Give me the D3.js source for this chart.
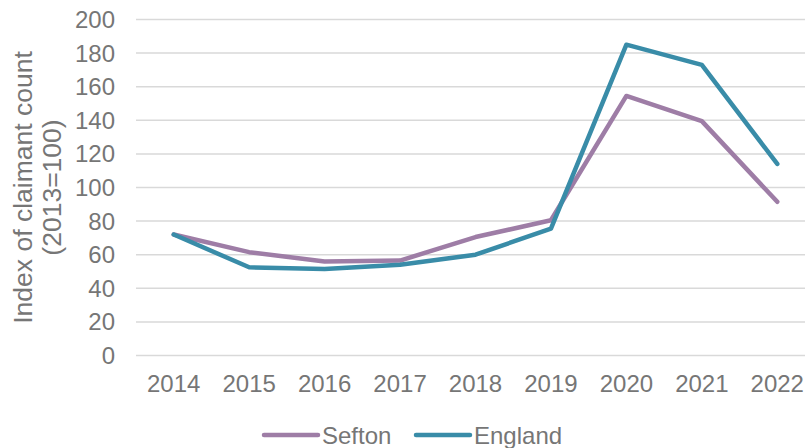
<!DOCTYPE html>
<html>
<head>
<meta charset="utf-8">
<style>
body { margin: 0; background: #fff; }
text { font-family: "Liberation Sans", Arial, sans-serif; fill: #767676; }
</style>
</head>
<body>
<script src="https://cdn.jsdelivr.net/npm/d3@7"></script>
<script>

var years = ["2014", "2015", "2016", "2017", "2018", "2019", "2020", "2021", "2022"];
var sefton = [72, 61.5, 56, 56.5, 70.5, 80.5, 154.5, 139.5, 91.5];
var england = [72, 52.5, 51.5, 54, 60, 75.5, 185, 173, 114];
var yTicks = [0, 20, 40, 60, 80, 100, 120, 140, 160, 180, 200];

var width = 805, height = 448;
var plotLeft = 136, plotRight = 815, plotTop = 19.5, plotBottom = 355.5;

var svg = d3.select("body").append("svg")
    .attr("width", width)
    .attr("height", height);

var x = d3.scalePoint()
    .domain(years)
    .range([plotLeft, plotRight])
    .padding(0.5);

var y = d3.scaleLinear()
    .domain([0, 200])
    .range([plotBottom, plotTop]);

// gridlines
svg.append("g")
  .selectAll("line")
  .data(yTicks)
  .enter().append("line")
    .attr("x1", plotLeft)
    .attr("x2", plotRight)
    .attr("y1", function(d) { return y(d); })
    .attr("y2", function(d) { return y(d); })
    .style("stroke", "#d9d9d9")
    .style("stroke-width", 1.5);

// y tick labels
svg.append("g")
  .selectAll("text")
  .data(yTicks)
  .enter().append("text")
    .attr("x", 115)
    .attr("y", function(d) { return y(d); })
    .attr("dy", "0.35em")
    .attr("text-anchor", "end")
    .style("font-size", "24px")
    .text(function(d) { return d; });

// x tick labels
svg.append("g")
  .selectAll("text")
  .data(years)
  .enter().append("text")
    .attr("x", function(d) { return x(d); })
    .attr("y", 392)
    .attr("text-anchor", "middle")
    .style("font-size", "24px")
    .text(function(d) { return d; });

// axis title
var title = svg.append("text")
    .attr("transform", "translate(0," + ((plotTop + plotBottom) / 2) + ") rotate(-90)")
    .attr("text-anchor", "middle")
    .style("font-size", "26.5px");
title.append("tspan").attr("x", 0).attr("y", 32).text("Index of claimant count");
title.append("tspan").attr("x", 0).attr("y", 61).text("(2013=100)");

var line = d3.line()
    .x(function(d, i) { return x(years[i]); })
    .y(function(d) { return y(d); });

var series = [
  {name: "Sefton", values: sefton, color: "#9e7da6"},
  {name: "England", values: england, color: "#398ca8"}
];

svg.append("g")
  .selectAll("path")
  .data(series)
  .enter().append("path")
    .attr("d", function(d) { return line(d.values); })
    .style("fill", "none")
    .style("stroke", function(d) { return d.color; })
    .style("stroke-width", 4.5)
    .style("stroke-linecap", "round")
    .style("stroke-linejoin", "round");

// legend
var legendX = [264, 416];
var legend = svg.append("g")
  .selectAll("g")
  .data(series)
  .enter().append("g")
    .attr("transform", function(d, i) { return "translate(" + legendX[i] + ",435)"; });

legend.append("line")
    .attr("x1", 0)
    .attr("x2", 54)
    .style("stroke", function(d) { return d.color; })
    .style("stroke-width", 4.5)
    .style("stroke-linecap", "round");

legend.append("text")
    .attr("x", 58)
    .attr("y", 8.5)
    .style("font-size", "24px")
    .text(function(d) { return d.name; });

</script>
</body>
</html>
